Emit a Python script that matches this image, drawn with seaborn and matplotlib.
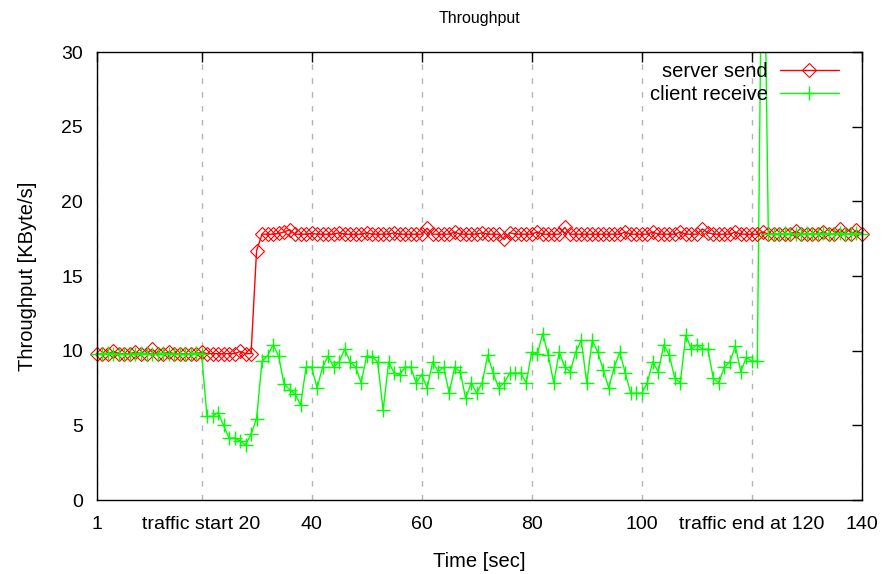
import pandas as pd
import seaborn as sns
import matplotlib.pyplot as plt
from matplotlib.lines import Line2D

seconds = list(range(1, 141))

server_send = [
    9.8, 9.8, 9.8, 9.95, 9.8, 9.8, 9.8, 9.9, 9.8, 9.8,
    10.1, 9.8, 9.8, 9.9, 9.8, 9.8, 9.8, 9.8, 9.8, 9.9,
    9.8, 9.8, 9.8, 9.8, 9.8, 9.8, 9.95, 9.8, 9.8, 16.7,
    17.8, 17.8, 17.8, 17.85, 17.95, 18.1, 17.8, 17.8, 17.8, 17.85,
    17.8, 17.8, 17.8, 17.8, 17.9, 17.8, 17.8, 17.8, 17.8, 17.9,
    17.8, 17.8, 17.8, 17.8, 17.9, 17.8, 17.8, 17.8, 17.8, 17.8,
    18.2, 17.8, 17.8, 17.8, 17.8, 17.95, 17.8, 17.8, 17.8, 17.8,
    17.9, 17.8, 17.8, 17.8, 17.45, 17.9, 17.8, 17.8, 17.8, 17.8,
    17.95, 17.8, 17.8, 17.8, 17.8, 18.25, 17.8, 17.8, 17.8, 17.8,
    17.8, 17.8, 17.8, 17.8, 17.8, 17.8, 17.95, 17.8, 17.8, 17.8,
    17.8, 17.95, 17.8, 17.8, 17.8, 17.8, 17.95, 17.8, 17.8, 17.8,
    18.15, 17.9, 17.8, 17.8, 17.8, 17.8, 17.95, 17.8, 17.8, 17.8,
    17.8, 17.95, 17.8, 17.8, 17.8, 17.8, 17.8, 18.0, 17.8, 17.8,
    17.8, 17.8, 17.95, 17.8, 17.8, 18.15, 17.8, 17.8, 18.05, 17.8,
]

client_receive = [
    9.8, 9.8, 9.85, 9.8, 9.8, 9.75, 9.8, 9.8, 9.85, 9.8,
    9.8, 9.8, 9.85, 9.8, 9.8, 9.8, 9.75, 9.8, 9.85, 9.8,
    5.6, 5.6, 5.85, 5.0, 4.15, 4.15, 3.95, 3.7, 4.4, 5.45,
    9.3, 9.65, 10.4, 9.65, 7.75, 7.4, 7.1, 6.36, 8.9, 8.9,
    7.5, 8.9, 9.65, 8.9, 9.25, 10.1, 9.25, 8.9, 7.85, 9.65,
    9.6, 9.25, 6.0, 9.25, 8.5, 8.4, 8.9, 8.9, 7.85, 8.4,
    7.5, 9.25, 8.6, 8.9, 7.15, 8.9, 8.6, 6.8, 7.85, 7.15,
    7.85, 9.7, 8.5, 7.5, 7.85, 8.5, 8.5, 8.5, 7.85, 9.9,
    9.75, 11.15, 9.7, 7.85, 9.9, 8.9, 8.6, 9.9, 10.7, 7.85,
    10.7, 9.9, 8.7, 7.5, 8.9, 9.9, 8.5, 7.15, 7.15, 7.15,
    7.85, 9.25, 8.6, 10.4, 9.7, 8.15, 7.85, 11.05, 10.1, 10.4,
    10.1, 10.1, 8.15, 7.85, 8.9, 9.25, 10.3, 8.6, 9.55, 9.3,
    9.3, 45.0, 17.8, 17.8, 17.8, 17.85, 17.8, 17.8, 17.8, 17.85,
    17.8, 17.8, 17.85, 17.8, 17.8, 17.9, 17.8, 17.8, 17.85, 17.8,
]

xtick_pos = [1, 20, 40, 60, 80, 100, 120, 140]
xtick_labels = ['1', 'traffic start 20', '40', '60', '80', '100', 'traffic end at 120', '140']

sns.set_style('white')
plt.rcParams['font.family'] = ['Liberation Sans', 'DejaVu Sans']
plt.rcParams['font.size'] = 14
for k in ['text.color', 'axes.labelcolor', 'xtick.color', 'ytick.color']:
    plt.rcParams[k] = 'black'

df = pd.DataFrame({'sec': seconds, 'server': server_send, 'client': client_receive})

fig = plt.figure(figsize=(8.84, 5.74), dpi=100)
ax = fig.add_axes([0.1097, 0.1289, 0.8653, 0.7805])

red = '#ff0000'
green = '#00ff00'

# lines (clipped to the axes, so the client spike runs off the top)
sns.lineplot(data=df, x='sec', y='server', color=red, lw=1, ax=ax)
sns.lineplot(data=df, x='sec', y='client', color=green, lw=1, ax=ax)

# point markers, like gnuplot they are not clipped at the frame
vis = df[df['client'] <= 30]
sns.lineplot(data=df, x='sec', y='server', linestyle='', marker='D', ms=7,
             mfc='none', mec=red, mew=0.8, clip_on=False, ax=ax)
sns.lineplot(data=vis, x='sec', y='client', linestyle='', marker='+', ms=10,
             mec=green, mew=1, clip_on=False, ax=ax)

ax.set_xlim(1, 140)
ax.set_ylim(0, 30)
ax.set_xticks(xtick_pos)
ax.set_xticklabels(xtick_labels)
ax.set_yticks([0, 5, 10, 15, 20, 25, 30])
ax.tick_params(direction='in', top=True, right=True, length=7, width=1, labelsize=14)
ax.tick_params(axis='x', pad=11.5)
ax.tick_params(axis='y', pad=10)
ax.xaxis.grid(True, linestyle=(0, (4, 6)), color='#b4b4b4', lw=1)
ax.yaxis.grid(False)
for s in ax.spines.values():
    s.set_color('black')
    s.set_linewidth(1)

ax.set_title('Throughput', fontsize=11.5, pad=21)
ax.set_xlabel('Time [sec]', fontsize=14.5, labelpad=14)
ax.set_ylabel('Throughput [KByte/s]', fontsize=14.5, labelpad=17.5)

handles = [
    Line2D([], [], color=red, lw=1, marker='D', ms=7, mfc='none', mec=red, mew=0.8),
    Line2D([], [], color=green, lw=1, marker='+', ms=10, mec=green, mew=1),
]
ax.legend(handles, ['server send', 'client receive'], loc='upper right',
          frameon=False, markerfirst=False, handlelength=2.9, handletextpad=0.6,
          labelspacing=0.22, borderaxespad=0.0, bbox_to_anchor=(0.980, 0.996),
          fontsize=14.5)

plt.savefig('out.png', dpi=100)
